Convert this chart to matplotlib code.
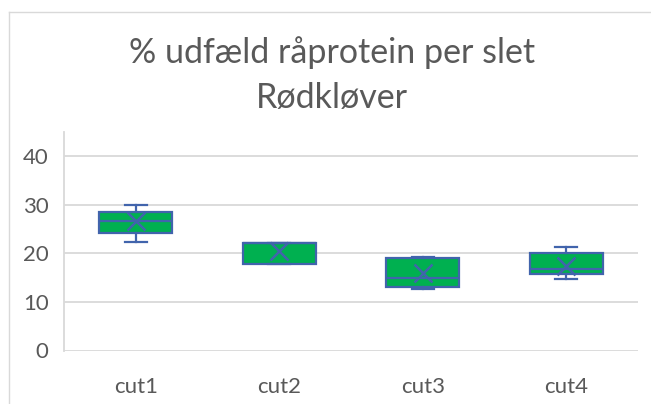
import matplotlib.pyplot as plt

# Værdier
kategorier = ['cut1', 'cut2', 'cut3', 'cut4']
minimum = [22.3, 17.8, 12.7, 14.8]
q1 = [24.2, 17.8, 13.1, 15.7]
median = [26.7, 22.2, 15.0, 16.8]
q3 = [28.5, 22.2, 19.0, 20.1]
maksimum = [29.9, 22.2, 19.2, 21.4]
middel = [26.6, 20.5, 15.9, 17.4]

gron = '#00B050'
bla = '#4164AC'
graa = '#595959'

plt.rcParams['font.family'] = ['Lato', 'DejaVu Sans']

fig = plt.figure(figsize=(6.51, 4.04), dpi=100)
ax = fig.add_axes([64/651, 53.5/404, 574/651, 218.5/404])

stats = []
for i, k in enumerate(kategorier):
    stats.append(dict(label=k, whislo=minimum[i], q1=q1[i], med=median[i],
                      q3=q3[i], whishi=maksimum[i], mean=middel[i]))

ax.bxp(stats, positions=range(len(kategorier)), widths=0.51, capwidths=0.15,
       showmeans=True, showfliers=False, patch_artist=True,
       boxprops=dict(facecolor=gron, edgecolor=bla, linewidth=1.6),
       medianprops=dict(color=bla, linewidth=1.6),
       whiskerprops=dict(color=bla, linewidth=1.6),
       capprops=dict(color=bla, linewidth=1.6),
       meanprops=dict(marker='x', markeredgecolor=bla, markersize=13,
                      markeredgewidth=1.8))

ax.set_xlim(-0.5, 3.5)
ax.set_ylim(0, 45)
ax.set_yticks([0, 10, 20, 30, 40])
ax.yaxis.grid(True, color='#D9D9D9', linewidth=1.3)
ax.set_axisbelow(True)
for s in ['top', 'right', 'bottom']:
    ax.spines[s].set_visible(False)
ax.spines['left'].set_color('#D9D9D9')
ax.spines['left'].set_linewidth(1.3)
ax.tick_params(axis='both', length=0, colors=graa, labelsize=16)
ax.tick_params(axis='y', pad=11)
ax.tick_params(axis='x', pad=19)

fig.text(0.51, 1 - 62.7/404, '% udfæld råprotein per slet', ha='center', va='baseline',
         fontsize=24.5, color=graa)
fig.text(0.51, 1 - 108/404, 'Rødkløver', ha='center', va='baseline',
         fontsize=24.5, color=graa)

# ramme om diagrammet
fig.add_artist(plt.Line2D([9/651, 9/651], [0, 1 - 12.3/404], transform=fig.transFigure,
                          color='#D9D9D9', linewidth=1))
fig.add_artist(plt.Line2D([9/651, 1], [1 - 12.3/404, 1 - 12.3/404], transform=fig.transFigure,
                          color='#D9D9D9', linewidth=1))

fig.savefig('out.png', dpi=100)
